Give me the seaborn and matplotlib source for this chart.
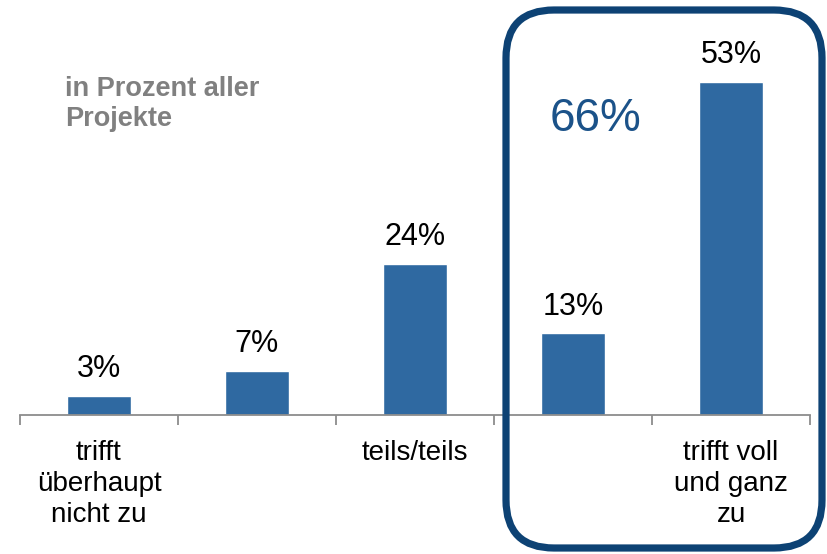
import matplotlib
matplotlib.use("Agg")
import matplotlib.pyplot as plt
import seaborn as sns
import pandas as pd
from matplotlib.patches import FancyBboxPatch
from matplotlib.transforms import IdentityTransform

categories = ["1", "2", "3", "4", "5"]
values = [3, 7, 24, 13, 53]
tick_labels = ["trifft\nüberhaupt\nnicht zu", "", "teils/teils", "", "trifft voll\nund ganz\nzu"]
value_labels = ["3%", "7%", "24%", "13%", "53%"]
highlight_text = "66%"
note_text = "in Prozent aller\nProjekte"

sns.set_theme(style="white")
plt.rcParams["font.family"] = ["Liberation Sans", "DejaVu Sans"]

DPI = 100
fig = plt.figure(figsize=(8.28, 5.54), dpi=DPI)
ax = fig.add_axes([20 / 828, (554 - 415) / 554, 790 / 828, 377 / 554])

df = pd.DataFrame({"cat": categories, "val": values})
sns.barplot(data=df, x="cat", y="val", color="#2F69A1", saturation=1, width=0.4, ax=ax)

ax.set_xlim(-0.5, 4.5)
ax.set_ylim(0, 60)
for s in ["top", "right", "left"]:
    ax.spines[s].set_visible(False)
ax.spines["bottom"].set_color("#8C8C8C")
ax.spines["bottom"].set_linewidth(1.3)
ax.set_yticks([])
ax.set_xlabel("")
ax.set_ylabel("")
ax.set_xticks(range(len(categories)))
ax.set_xticklabels(tick_labels, fontsize=20, color="black", linespacing=1.25)
ax.tick_params(axis="x", which="major", length=0, pad=18, bottom=True)
ax.set_xticks([i - 0.5 for i in range(len(categories) + 1)], minor=True)
ax.tick_params(axis="x", which="minor", length=7, width=1.3, color="#8C8C8C",
               direction="out", bottom=True)

for i, (v, lab) in enumerate(zip(values, value_labels)):
    ax.annotate(lab, (i, v), xytext=(0, 13.5), textcoords="offset points",
                ha="center", va="baseline", fontsize=22, color="black")

fig.text(65 / 828, 1 - 126 / 554, note_text, ha="left", va="baseline", fontsize=19.5,
         fontweight="bold", color="#808080", linespacing=1.2)
fig.text(596 / 828, 1 - 131 / 554, highlight_text, ha="center", va="baseline",
         fontsize=33, color="#1B5289")

box = FancyBboxPatch((506, 6), 316, 538, boxstyle="round,pad=0,rounding_size=48",
                     transform=IdentityTransform(), fill=False, edgecolor="#0D4274",
                     linewidth=5.2, zorder=10)
fig.add_artist(box)

fig.savefig("out.png", dpi=DPI)
